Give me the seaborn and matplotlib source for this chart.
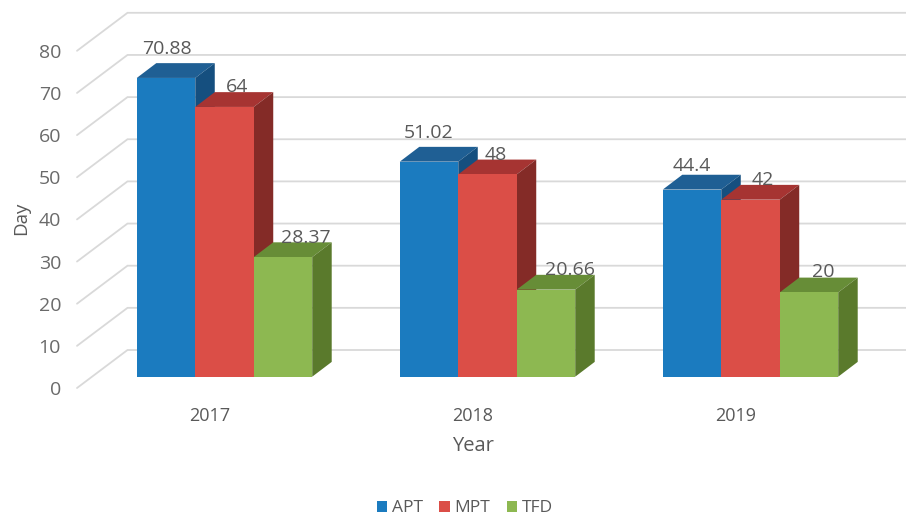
import matplotlib
matplotlib.use("Agg")
import matplotlib.pyplot as plt
from matplotlib.patches import Polygon
from matplotlib.transforms import ScaledTranslation
import pandas as pd
import seaborn as sns

years = ["2017", "2018", "2019"]
series_names = ["APT", "MPT", "TFD"]
apt = [70.88, 51.02, 44.4]
mpt = [64, 48, 42]
tfd = [28.37, 20.66, 20]
y_ticks = [0, 10, 20, 30, 40, 50, 60, 70, 80]

front_colors = ["#1B7BBF", "#DB4E47", "#8DB851"]
top_colors = ["#1F5F94", "#A63432", "#678D37"]
side_colors = ["#154F7F", "#842B27", "#5A7A2C"]
# per-label nudges in pixels (dx, dy above the bar's front top edge)
label_nudges = {
    "APT": [(0.5, 28.5), (0, 28.5), (0, 24)],
    "MPT": [(13, 19.5), (8, 19.5), (12, 20)],
    "TFD": [(23, 19.5), (24, 20), (14, 20.5)],
}

W, H = 906, 515
PX_PER_UNIT = 4.215
PX_PER_GROUP = 263
X0_PX, Y0_PX = 224.5, 376.7
DEPTH_X, DEPTH_Y = 19.5, 14.8

sns.set_theme(style="white")
plt.rcParams["font.family"] = ["Open Sans", "DejaVu Sans"]
TXT = "#595959"

df = pd.DataFrame({
    "Year": years * 3,
    "Series": [s for s in series_names for _ in years],
    "Day": apt + mpt + tfd,
})

fig = plt.figure(figsize=(W / 100, H / 100), dpi=100)
left, right, top, bottom = 77, 906, 13, 388
ax = fig.add_axes([left / W, 1 - bottom / H, (right - left) / W, (bottom - top) / H])
ax.patch.set_alpha(0)

sns.barplot(data=df, x="Year", y="Day", hue="Series", order=years, hue_order=series_names,
            palette=front_colors, width=0.667, gap=0, saturation=1, ax=ax, linewidth=0, errorbar=None)

ax.set_xlim((left - X0_PX) / PX_PER_GROUP, (right - X0_PX) / PX_PER_GROUP)
ax.set_ylim((Y0_PX - bottom) / PX_PER_UNIT, (Y0_PX - top) / PX_PER_UNIT)

dx = DEPTH_X / PX_PER_GROUP
dy = DEPTH_Y / PX_PER_UNIT

# walls: floor-to-back gridlines
back_x = (127.5 - X0_PX) / PX_PER_GROUP
back_off = (Y0_PX - 350) / PX_PER_UNIT
front_off = (Y0_PX - bottom) / PX_PER_UNIT
x_left, x_right = ax.get_xlim()
for t in y_ticks:
    ax.plot([x_left, back_x, x_right], [t + front_off, t + back_off, t + back_off],
            color="#D9D9D9", lw=1.3, zorder=0.5, clip_on=False, solid_joinstyle="miter")

# 3D faces built from the bars that seaborn drew
for i, (name, cont) in enumerate(zip(series_names, ax.containers)):
    for j, bar in enumerate(cont):
        x0, w, h = bar.get_x(), bar.get_width(), bar.get_height()
        x1 = x0 + w
        bar.set_zorder(3 + 2 * i)
        ax.add_patch(Polygon([(x0, h), (x1, h), (x1 + dx, h + dy), (x0 + dx, h + dy)],
                             closed=True, fc=top_colors[i], ec="none", zorder=2 + 2 * i))
        ax.add_patch(Polygon([(x1, 0), (x1 + dx, dy), (x1 + dx, h + dy), (x1, h)],
                             closed=True, fc=side_colors[i], ec="none", zorder=2 + 2 * i))
        nx, ny = label_nudges[name][j]
        ax.annotate(f"{h:g}", (x0 + w / 2, h), xytext=(nx * 0.72, ny * 0.72),
                    textcoords="offset points", ha="center", va="center",
                    fontsize=14, color=TXT, zorder=20, annotation_clip=False)

sns.despine(ax=ax, left=True, bottom=True)
ax.grid(False)
ax.set_yticks(y_ticks)
ax.set_yticklabels([str(t) for t in y_ticks])
ax.tick_params(axis="y", length=0, pad=11.5, labelsize=14, labelcolor="#6A6A6A")
ax.tick_params(axis="x", length=0, pad=13.5, labelsize=13, labelcolor=TXT)
ax.set_xticks(range(len(years)))
ax.set_xticklabels(years)

y_shift = ScaledTranslation(0, -11.3 / 100, fig.dpi_scale_trans)
for lab in ax.get_yticklabels():
    lab.set_transform(lab.get_transform() + y_shift)
x_shift = ScaledTranslation(-14.5 / 100, 0, fig.dpi_scale_trans)
for lab in ax.get_xticklabels():
    lab.set_transform(lab.get_transform() + x_shift)

ax.set_xlabel("")
ax.set_ylabel("")
fig.text(473 / W, 1 - 446 / H, "Year", ha="center", va="center", fontsize=14.5, color=TXT)
fig.text(21 / W, 1 - 218 / H, "Day", ha="center", va="center", rotation=90, fontsize=13.5, color=TXT)

sns.move_legend(ax, "center", bbox_to_anchor=(465 / W, 1 - 508.5 / H),
                bbox_transform=fig.transFigure, ncol=3, title=None, frameon=False,
                fontsize=12.5, handlelength=0.6, handleheight=0.6, handletextpad=0.28,
                columnspacing=0.95, borderpad=0, labelcolor=TXT)

fig.savefig("out.png", dpi=100, facecolor="white")
